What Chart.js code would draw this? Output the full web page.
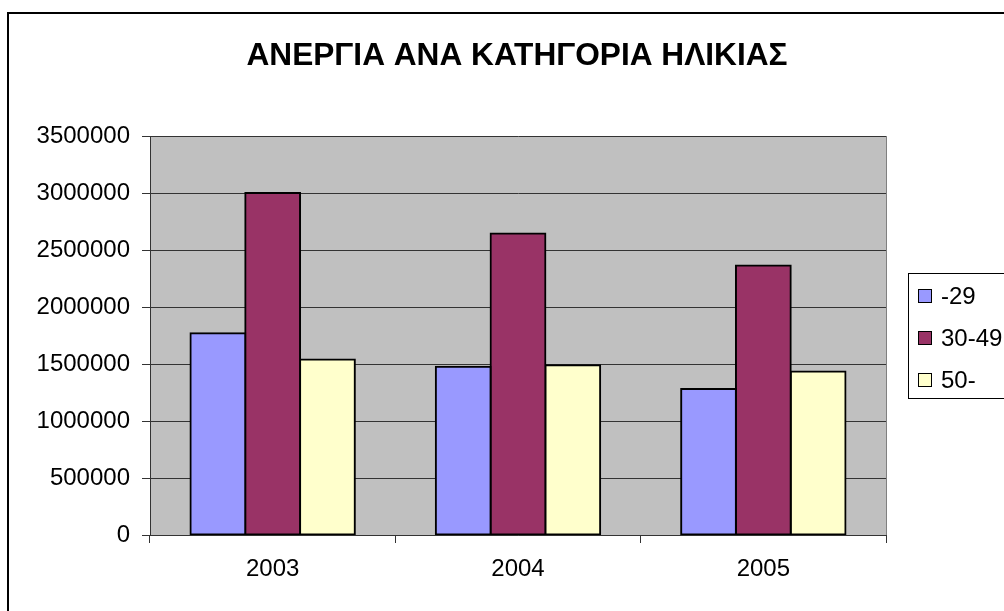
<!DOCTYPE html>
<html>
<head>
<meta charset="utf-8">
<script src="https://cdn.jsdelivr.net/npm/chart.js@4"></script>
<style>
  html, body { margin: 0; padding: 0; background: #ffffff; }
  #wrap { width: 1004px; height: 611px; position: relative; }
</style>
</head>
<body>
<div id="wrap"><canvas id="unemploymentChart"></canvas></div>
<script>
// Chart values
const chartTitle = "ΑΝΕΡΓΙΑ ΑΝΑ ΚΑΤΗΓΟΡΙΑ ΗΛΙΚΙΑΣ";
const years = ["2003", "2004", "2005"];
const seriesNames = ["-29", "30-49", "50-"];
const under29 = [1770000, 1475000, 1280000];
const age30to49 = [3000000, 2645000, 2365000];
const over50 = [1540000, 1490000, 1435000];
const yTicks = [0, 500000, 1000000, 1500000, 2000000, 2500000, 3000000, 3500000];
const seriesColors = ["#9999FF", "#993366", "#FFFFCC"];

const fontFamily = "'Liberation Sans', Arial, sans-serif";

// Grey plot area, outer frame, title and boxed legend (Excel look)
const excelFrame = {
  id: "excelFrame",
  beforeDraw(chart) {
    const ctx = chart.ctx;
    const a = chart.chartArea;
    ctx.save();
    ctx.fillStyle = "#ffffff";
    ctx.fillRect(0, 0, chart.width, chart.height);
    ctx.fillStyle = "#C0C0C0";
    ctx.fillRect(a.left, a.top, a.right - a.left, a.bottom - a.top);
    ctx.restore();
  },
  afterDraw(chart) {
    const ctx = chart.ctx;
    const a = chart.chartArea;
    ctx.save();
    // right edge of plot area
    ctx.strokeStyle = "#808080";
    ctx.lineWidth = 1;
    ctx.beginPath();
    ctx.moveTo(a.right + 0.5, a.top);
    ctx.lineTo(a.right + 0.5, a.bottom);
    ctx.stroke();

    // outer chart frame
    ctx.strokeStyle = "#000000";
    ctx.lineWidth = 2;
    ctx.strokeRect(8, 13, chart.width + 20, chart.height + 20);

    // title, squeezed horizontally like the original
    ctx.font = "bold 32px " + fontFamily;
    ctx.fillStyle = "#000000";
    ctx.textBaseline = "alphabetic";
    const w = ctx.measureText(chartTitle).width;
    const target = 541;
    ctx.translate(517, 65);
    ctx.scale(target / w, 1);
    ctx.textAlign = "center";
    ctx.fillText(chartTitle, 0, 0);
    ctx.restore();

    // legend box
    ctx.save();
    ctx.strokeStyle = "#000000";
    ctx.lineWidth = 1;
    ctx.strokeRect(908.5, 273.5, 120, 125);
    ctx.font = "24px " + fontFamily;
    ctx.textBaseline = "middle";
    ctx.textAlign = "left";
    chart.data.datasets.forEach((ds, i) => {
      const cy = 296 + i * 42;
      ctx.fillStyle = ds.backgroundColor;
      ctx.fillRect(918, cy - 6, 13, 13);
      ctx.strokeStyle = "#000000";
      ctx.lineWidth = 1;
      ctx.strokeRect(918.5, cy - 6.5, 13, 13);
      ctx.fillStyle = "#000000";
      ctx.fillText(ds.label, 941, cy + 1);
    });
    ctx.restore();
  }
};

const ctx = document.getElementById("unemploymentChart").getContext("2d");
new Chart(ctx, {
  type: "bar",
  data: {
    labels: years,
    datasets: [
      { label: seriesNames[0], data: under29, backgroundColor: seriesColors[0] },
      { label: seriesNames[1], data: age30to49, backgroundColor: seriesColors[1] },
      { label: seriesNames[2], data: over50, backgroundColor: seriesColors[2] }
    ].map(d => Object.assign(d, {
      borderColor: "#000000",
      borderWidth: 2,
      borderSkipped: false,
      inflateAmount: 1,
      categoryPercentage: 0.67,
      barPercentage: 1.0
    }))
  },
  options: {
    responsive: true,
    maintainAspectRatio: false,
    animation: false,
    layout: { padding: { left: 0, right: 118, top: 136, bottom: 0 } },
    plugins: {
      legend: { display: false },
      title: { display: false },
      tooltip: { enabled: false }
    },
    scales: {
      x: {
        offset: true,
        grid: {
          offset: true,
          drawOnChartArea: false,
          drawTicks: true,
          tickLength: 8,
          color: "#333333"
        },
        border: { display: true, color: "#333333", width: 1 },
        ticks: {
          color: "#000000",
          padding: 12,
          font: { family: fontFamily, size: 24 }
        },
        afterFit(scale) { scale.height = 76; }
      },
      y: {
        min: 0,
        max: 3500000,
        afterBuildTicks(scale) { scale.ticks = yTicks.map(v => ({ value: v })); },
        grid: {
          color: "#333333",
          lineWidth: 1,
          drawTicks: true,
          tickLength: 8
        },
        border: { display: true, color: "#333333", width: 1 },
        ticks: {
          color: "#000000",
          padding: 12,
          font: { family: fontFamily, size: 24 },
          callback: v => String(v)
        },
        afterFit(scale) { scale.width = 150; }
      }
    }
  },
  plugins: [excelFrame]
});
</script>
</body>
</html>
